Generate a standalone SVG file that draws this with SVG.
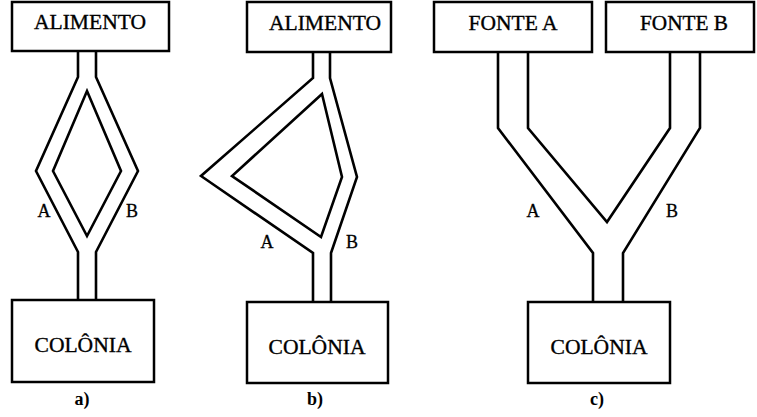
<svg xmlns="http://www.w3.org/2000/svg" width="757" height="417" viewBox="0 0 757 417">
  <style>
    .box { fill: #ffffff; stroke: #000000; stroke-width: 2.5; }
    .pipe { fill: none; stroke: #000000; stroke-width: 2.6; stroke-linejoin: miter; }
    .name { font-family: "Liberation Serif", "Times New Roman", serif; font-size: 21px; fill: #000000; stroke: #000000; stroke-width: 0.35; text-anchor: middle; }
    .lbl { font-family: "Liberation Serif", "Times New Roman", serif; font-size: 18px; fill: #000000; stroke: #000000; stroke-width: 0.3; text-anchor: middle; }
    .cap { font-family: "Liberation Serif", "Times New Roman", serif; font-size: 18px; font-weight: bold; fill: #000000; text-anchor: middle; }
  </style>
  <rect width="757" height="417" fill="#ffffff"/>

  <!-- connectors: double-walled paths -->
  <g id="connectors">
    <!-- a) two symmetric branches -->
    <polyline class="pipe" points="78,51 78,77 36,171 78,252 78,300"/>
    <polyline class="pipe" points="96,51 96,77 138,171 96,252 96,300"/>
    <polygon class="pipe" points="87,91 121,171 87,236 53,171"/>
    <!-- b) long branch A, short branch B -->
    <polyline class="pipe" points="313,52 313,78 201,176 313,253 313,302"/>
    <polyline class="pipe" points="330,52 330,78 357,177 331,253 331,302"/>
    <polygon class="pipe" points="322,94 342,177 321,237 232,176"/>
    <!-- c) two sources joining -->
    <polyline class="pipe" points="498,52 498,128 593,253 593,302"/>
    <polyline class="pipe" points="700,52 700,128 623,253 623,302"/>
    <polyline class="pipe" points="528,52 528,128 607,222 670,128 670,52"/>
  </g>

  <!-- panel a -->
  <g id="a-alimento">
    <rect class="box" x="12" y="2" width="157" height="49"/>
    <text class="name" x="90" y="29" textLength="112" lengthAdjust="spacingAndGlyphs">ALIMENTO</text>
  </g>
  <g id="a-colonia">
    <rect class="box" x="12" y="300" width="142" height="82"/>
    <text class="name" x="83" y="352" textLength="97" lengthAdjust="spacingAndGlyphs">COLÔNIA</text>
  </g>
  <text class="lbl" x="44" y="217">A</text>
  <text class="lbl" x="132" y="217">B</text>
  <text class="cap" x="82" y="405">a)</text>

  <!-- panel b -->
  <g id="b-alimento">
    <rect class="box" x="247" y="2" width="144" height="50"/>
    <text class="name" x="325" y="30" textLength="112" lengthAdjust="spacingAndGlyphs">ALIMENTO</text>
  </g>
  <g id="b-colonia">
    <rect class="box" x="247" y="302" width="141" height="81"/>
    <text class="name" x="317" y="354" textLength="97" lengthAdjust="spacingAndGlyphs">COLÔNIA</text>
  </g>
  <text class="lbl" x="267" y="248">A</text>
  <text class="lbl" x="352" y="248">B</text>
  <text class="cap" x="315" y="405">b)</text>

  <!-- panel c -->
  <g id="c-fonte-a">
    <rect class="box" x="434" y="2" width="158" height="50"/>
    <text class="name" x="513" y="30" textLength="89" lengthAdjust="spacingAndGlyphs">FONTE A</text>
  </g>
  <g id="c-fonte-b">
    <rect class="box" x="606" y="2" width="148" height="50"/>
    <text class="name" x="684" y="30" textLength="88" lengthAdjust="spacingAndGlyphs">FONTE B</text>
  </g>
  <g id="c-colonia">
    <rect class="box" x="528" y="302" width="142" height="81"/>
    <text class="name" x="599" y="354" textLength="97" lengthAdjust="spacingAndGlyphs">COLÔNIA</text>
  </g>
  <text class="lbl" x="533" y="217">A</text>
  <text class="lbl" x="672" y="217">B</text>
  <text class="cap" x="597" y="405">c)</text>
</svg>
